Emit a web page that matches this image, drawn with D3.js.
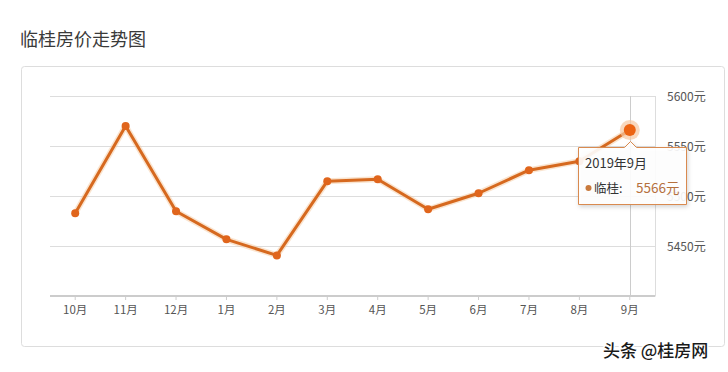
<!DOCTYPE html>
<html><head><meta charset="utf-8">
<script src="https://cdn.jsdelivr.net/npm/d3@7"></script>
<style>
html,body{margin:0;padding:0;background:#fff;}
svg{display:block;font-family:"Noto Sans CJK SC","Noto Sans",sans-serif;}
</style></head><body>
<svg id="c" width="728" height="372"></svg>
<script>
const months = ["10月","11月","12月","1月","2月","3月","4月","5月","6月","7月","8月","9月"];
const prices = [5483,5570,5485,5457,5441,5515,5517,5487,5503,5526,5535,5566];
const yTicks = [5450,5500,5550,5600];
const seriesName = "临桂";
const hoverLabel = "2019年9月";
const hoverIndex = 11;

const svg = d3.select("#c");
// title
svg.append("text").attr("x",20).attr("y",46).attr("font-size",18).attr("fill","#3a3a3a").text("临桂房价走势图");
// frame
svg.append("rect").attr("x",21.5).attr("y",66.5).attr("width",703).attr("height",280).attr("rx",3)
  .attr("fill","none").attr("stroke","#ddd");

const x = d3.scaleBand().domain(months).range([50,655]);
const y = d3.scaleLinear().domain([5400,5600]).range([296.5,96]);
const cx = d => x(d)+x.bandwidth()/2;

// grid
svg.append("g").selectAll("line").data(yTicks).join("line")
  .attr("x1",50).attr("x2",655).attr("y1",d=>Math.round(y(d))+0.5).attr("y2",d=>Math.round(y(d))+0.5)
  .attr("stroke","#ddd");
// right vertical edge
svg.append("line").attr("x1",655.5).attr("x2",655.5).attr("y1",y(5600)).attr("y2",y(5400)).attr("stroke","#ddd");

// y labels
svg.append("g").selectAll("text").data(yTicks).join("text")
  .attr("x",667).attr("y",d=>y(d)+4.5).attr("font-size",12).attr("fill","#555").text(d=>d+"元");

// x axis
const xa = svg.append("g").attr("transform","translate(0,296)")
  .call(d3.axisBottom(x).tickSize(4).tickSizeOuter(0).tickPadding(6));
xa.select(".domain").attr("stroke","#ccc").attr("stroke-width",2).attr("d","M50,0H655");
xa.selectAll(".tick line").attr("stroke","#ccc");
xa.selectAll(".tick text").attr("font-size",11.5).attr("fill","#555").attr("font-family","\"Noto Sans CJK SC\",sans-serif");

// crosshair
svg.append("line").attr("x1",Math.round(cx(months[hoverIndex]))+0.5).attr("x2",Math.round(cx(months[hoverIndex]))+0.5)
  .attr("y1",y(5600)).attr("y2",y(5400)).attr("stroke","#ccc");

// line
const line = d3.line().x((d,i)=>cx(months[i])).y(d=>y(d));
svg.append("path").datum(prices).attr("d",line).attr("fill","none")
  .attr("stroke","#f6c9a0").attr("stroke-width",6).attr("opacity",0.5).attr("stroke-linejoin","round");
svg.append("path").datum(prices).attr("d",line).attr("fill","none")
  .attr("stroke","#d6691f").attr("stroke-width",3).attr("stroke-linejoin","round");
svg.append("g").selectAll("circle").data(prices).join("circle")
  .attr("cx",(d,i)=>cx(months[i])).attr("cy",d=>y(d)).attr("r",(d,i)=>i===hoverIndex?0:4)
  .attr("fill","#e0651c");
// highlighted point
const hx = cx(months[hoverIndex]), hy = y(prices[hoverIndex]);
svg.append("circle").attr("cx",hx).attr("cy",hy).attr("r",10).attr("fill","#f7c7a3").attr("opacity",0.7);
svg.append("circle").attr("cx",hx).attr("cy",hy).attr("r",6).attr("fill","#ec6414");

// tooltip
const defs = svg.append("defs");
const f = defs.append("filter").attr("id","sh").attr("x","-20%").attr("y","-20%").attr("width","140%").attr("height","150%");
f.append("feDropShadow").attr("dx",1).attr("dy",2).attr("stdDeviation",2).attr("flood-color","#000").attr("flood-opacity",0.18);
const tl=578.5, tt=147.5, tw=108, th=57;
const ax = Math.round(hx)+0.5;
svg.append("path").attr("filter","url(#sh)")
  .attr("d",`M${tl},${tt}H${ax-6}L${ax},${tt-6}L${ax+6},${tt}H${tl+tw}V${tt+th}H${tl}Z`)
  .attr("fill","rgba(255,255,255,0.9)").attr("stroke","#d98a50").attr("stroke-width",1);
svg.append("text").attr("x",585).attr("y",168).attr("font-size",13).attr("fill","#333").text(hoverLabel);
svg.append("circle").attr("cx",588.5).attr("cy",188).attr("r",3).attr("fill","#c97a3d");
svg.append("text").attr("x",594).attr("y",192.5).attr("font-size",12.5).attr("fill","#333").text(seriesName+":");
svg.append("text").attr("x",636).attr("y",193).attr("font-size",13.5).attr("fill","#b5703d").text(prices[hoverIndex]+"元");

// watermark
svg.append("text").attr("x",603).attr("y",357).attr("font-size",17).attr("font-weight",500).attr("fill","#1a1a1a")
  .attr("stroke","#fff").attr("stroke-width",3).attr("paint-order","stroke").text("头条 @桂房网");
</script></body></html>
